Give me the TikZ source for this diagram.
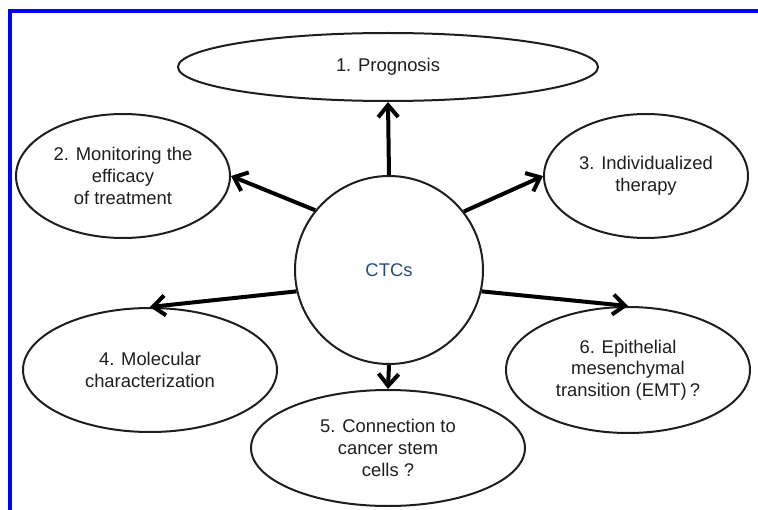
\documentclass[tikz,border=0pt]{standalone}
\usepackage{fontspec}
\setmainfont{Liberation Sans}
\usepackage{tikz}
\usetikzlibrary{shapes.geometric, arrows.meta}
\definecolor{ctcblue}{RGB}{40,74,128}
\definecolor{frameblue}{RGB}{0,0,255}
\definecolor{inkgray}{RGB}{30,30,30}
\tikzset{
  topic/.style={draw=inkgray, ellipse, line width=1.5pt, inner sep=0pt, align=center,
    text=inkgray, font=\fontsize{13.8}{16.2}\selectfont},
  link/.style={draw=black, line width=3pt, -{Straight Barb[length=9pt,width=15pt]}}
}

\begin{document}
\begin{tikzpicture}[x=0.75pt,y=-0.75pt]
    \useasboundingbox (0,0) rectangle (758,510);
    % frame
    \draw[frameblue, line width=2.3pt] (758,11) -- (10,11) -- (10,510);
    % centre
    \node[topic, circle, minimum size=141pt, text=ctcblue] (ctc) at (389,270) {CTCs};
    % the six topics
    \node[topic, minimum width=315pt, minimum height=51pt] (prog) at (388,67) {1. Prognosis};
    \node[topic, minimum width=160.5pt, minimum height=93pt] (mon) at (123,176) {2. Monitoring the\\efficacy\\of treatment};
    \node[topic, minimum width=153pt, minimum height=93pt] (ind) at (646,176) {3. Individualized\\therapy};
    \node[topic, minimum width=190.5pt, minimum height=93pt] (mol) at (150,370) {4. Molecular\\characterization};
    \node[topic, minimum width=205.5pt, minimum height=87pt] (con) at (388,448) {5. Connection to\\cancer stem\\cells ?};
    \node[topic, minimum width=183pt, minimum height=94.5pt] (emt) at (628,370) {6. Epithelial\\mesenchymal\\transition (EMT)\,?};
    % arrows out of the centre
    \draw[link] (ctc.north) -- (prog.south);
    \draw[link] (ctc.141) -- (mon.east);
    \draw[link] (ctc.38) -- (ind.west);
    \draw[link] (ctc.193) -- (mol.north);
    \draw[link] (ctc.347) -- (emt.north);
    \draw[link] (ctc.south) -- (con.north);
  \end{tikzpicture}
\end{document}
